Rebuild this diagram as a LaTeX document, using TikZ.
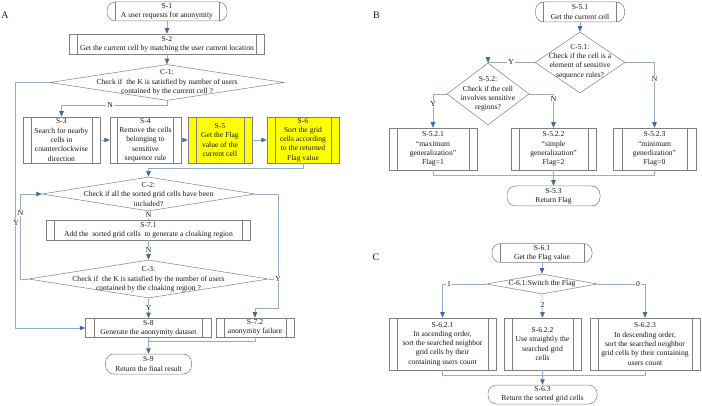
\documentclass[tikz,border=0pt]{standalone}
\usepackage{fontspec}
\setmainfont{Liberation Serif}
\usetikzlibrary{shapes.geometric,arrows.meta}
\definecolor{lncol}{RGB}{150,172,204}
\definecolor{arcol}{RGB}{68,106,168}
\definecolor{bdcol}{RGB}{128,128,128}
\definecolor{txcol}{RGB}{25,25,25}
\definecolor{yel}{RGB}{255,255,0}
\tikzset{
  txt/.style={text=txcol, font=\fontsize{7.6}{9.3}\selectfont, align=center, inner sep=0pt},
  dtxt/.style={txt, font=\fontsize{7.6}{9.7}\selectfont},
  box/.style={txt, draw=bdcol, line width=0.5pt, rectangle},
  pproc/.style={box, path picture={\draw[bdcol,line width=0.5pt]
      ([xshift=#1]path picture bounding box.north west) -- ([xshift=#1]path picture bounding box.south west)
      ([xshift=-#1]path picture bounding box.north east) -- ([xshift=-#1]path picture bounding box.south east);}},
  pproc/.default=8pt,
  term/.style={box, rounded corners=8.5pt},
  termS/.style={term, path picture={\draw[bdcol,line width=0.5pt,sharp corners]
      ([xshift=8pt]path picture bounding box.north west) -- ([xshift=8pt]path picture bounding box.south west)
      ([xshift=-8pt]path picture bounding box.north east) -- ([xshift=-8pt]path picture bounding box.south east);}},
  dia/.style={draw=bdcol, line width=0.5pt, diamond, inner sep=0pt, aspect=1},
  conn/.style={draw=lncol, line width=0.6pt},
  arr/.style={conn, -{Triangle[length=5.5pt,width=4.5pt,color=arcol]}},
  lab/.style={fill=white, inner sep=0.8pt, text=txcol, font=\fontsize{7.6}{8}\selectfont},
  panel/.style={text=txcol, font=\fontsize{10}{12}\selectfont, inner sep=0pt}
}
\begin{document}
\begin{tikzpicture}[x=1pt,y=-1pt]
\useasboundingbox (0,0) rectangle (702,406);
\fill[white] (0,0) rectangle (702,406);

% ---------------- Panel A ----------------
\node[panel] (pa) at (5,15) {A};
\node[termS, minimum width=120pt, minimum height=19pt] (s1) at (167,11.5) {S-1\\A user requests for anonymity};
\node[pproc, minimum width=195pt, minimum height=20pt] (s2) at (167,44) {S-2\\Get the current cell by matching the user current location};
\node[dia, minimum width=234pt, minimum height=36pt] (c1) at (167,82.5) {};
\node[dtxt] (c1t) at (167,82.5) {C-1:\\Check if\ \ the K is satisfied by number of users\\contained by the current cell ?};
\node[pproc, minimum width=77pt, minimum height=46pt] (s3) at (61.5,140) {S-3\\Search for nearby\\cells in\\counterclockwise\\direction};
\node[pproc=7.5pt, minimum width=71pt, minimum height=46pt] (s4) at (145.5,140) {S-4\\Remove the cells\\belonging to\\sensitive\\sequence rule};
\node[pproc, fill=yel, minimum width=64pt, minimum height=46pt] (s5) at (220,140) {S-5\\Get the Flag\\value of the\\current cell};
\node[pproc, fill=yel, minimum width=72pt, minimum height=46pt] (s6) at (303,140) {S-6\\Sort the grid\\cells according\\to the returned\\Flag value};
\node[dia, minimum width=213pt, minimum height=34pt] (c2) at (148.5,194) {};
\node[dtxt] (c2t) at (148.5,194.5) {C-2:\\Check if all the sorted grid cells have been\\included?};
\node[pproc, minimum width=204pt, minimum height=20pt] (s71) at (148.5,230) {S-7.1\\Add the\ \ sorted grid cells\ \ to generate a cloaking region};
\node[dia, minimum width=240pt, minimum height=38pt] (c3) at (148.5,279) {};
\node[dtxt] (c3t) at (148.5,279.5) {C-3:\\Check if\ \ the K is satisfied by the number of users\\contained by the cloaking region ?};
\node[pproc=9pt, minimum width=126pt, minimum height=19pt] (s8) at (148.5,328) {S-8\\Generate the anonymity dataset};
\node[pproc, minimum width=78pt, minimum height=19pt] (s72) at (255,327.5) {S-7.2\\anonymity failure};
\node[term, minimum width=86pt, minimum height=20pt] (s9) at (148.5,364) {S-9\\Return the final result};

\coordinate (b1) at (278,308);
\coordinate (b2) at (148.5,168);
\coordinate (b3) at (167,105);
\coordinate (b4) at (148.5,341);

\draw[arr] (s1.south) -- (s2.north);
\draw[arr] (s2.south) -- (c1.north);
\draw[arr] (c1.south) -- (b3) -| (s3.north);
\node[lab] (n1) at (110,105) {N};
\draw[arr] (c1.west) -- ++(-34,0) |- (s8.west);
\node[lab] (y1) at (16,223) {Y};
\draw[arr] (s3.east) -- (s4.west);
\draw[arr] (s4.east) -- (s5.west);
\draw[arr] (s5.east) -- (s6.west);
\draw[arr] (s6.south) |- (b2) -- (c2.north);
\draw[conn] (c2.south) -- (s71.north);
\node[lab] (n2) at (148.5,215) {N};
\draw[arr] (c2.east) -| (b1) -| (s72.north);
\draw[arr] (s71.south) -- (c3.north);
\node[lab] (n3) at (148.5,250) {N};
\draw[arr] (c3.west) -- ++(-8,0) |- (c2.west);
\node[lab] (n4) at (20.5,213) {N};
\draw[conn] (c3.east) -- (c3.east -| b1);
\node[lab] (y2) at (c3.east -| b1) {Y};
\draw[arr] (c3.south) -- (s8.north);
\node[lab] (y3) at (148.5,308) {Y};
\draw[arr] (s8.south) -- (s9.north);
\draw[conn] (s72.south) |- (b4);

% ---------------- Panel B ----------------
\node[panel] (pb) at (376.5,15) {B};
\node[termS, minimum width=89pt, minimum height=20pt] (s51) at (580,12) {S-5.1\\Get the current cell};
\node[dia, minimum width=90pt, minimum height=61pt] (c51) at (580,62.5) {};
\node[txt] (c51t) at (580,61.5) {C-5.1:\\Check if the cell is a\\element of sensitive\\sequence rules?};
\node[dia, minimum width=82pt, minimum height=62pt] (s52) at (488,94) {};
\node[txt] (s52t) at (488,94) {S-5.2:\\Check if the cell\\involves sensitive\\regions?};
\node[pproc, minimum width=88pt, minimum height=42pt] (s521) at (433,149) {S-5.2.1\\“maximum\\generalization”\\Flag=1};
\node[pproc, minimum width=85pt, minimum height=42pt] (s522) at (553.5,149) {S-5.2.2\\“simple\\generalization”\\Flag=2};
\node[pproc=9pt, minimum width=83pt, minimum height=42pt] (s523) at (654.5,149) {S-5.2.3\\“minimum\\generlization”\\Flag=0};
\node[term, minimum width=93pt, minimum height=20pt] (s53) at (553.5,196) {S-5.3\\Return Flag};

\coordinate (b5) at (553.5,175);
\draw[arr] (s51.south) -- (c51.north);
\draw[arr] (c51.west) -| (s52.north);
\node[lab] (y4) at (511,62.5) {Y};
\draw[arr] (c51.east) -| (s523.north);
\node[lab] (n5) at (654.5,79) {N};
\draw[arr] (s52.west) -| (s521.north);
\node[lab] (y5) at (433,104) {Y};
\draw[arr] (s52.east) -| (s522.north);
\node[lab] (n6) at (553.5,99) {N};
\draw[conn] (s521.south) |- (b5);
\draw[conn] (s523.south) |- (b5);
\draw[arr] (s522.south) -- (s53.north);

% ---------------- Panel C ----------------
\node[panel] (pc) at (376,257.5) {C};
\node[termS, minimum width=100pt, minimum height=19pt] (s61) at (542,253) {S-6.1\\Get the Flag value};
\node[dia, minimum width=111pt, minimum height=20pt] (c61) at (542,284) {};
\node[txt] (c61t) at (542,284) {C-6.1:Switch the Flag};
\node[pproc, minimum width=107pt, minimum height=52pt] (s621) at (442.5,344) {S-6.2.1\\In ascending order,\\sort the searched neighbor\\grid cells by their\\containing users count};
\node[pproc, minimum width=77pt, minimum height=52pt] (s622) at (542.5,344) {S-6.2.2\\Use straightly the\\searched grid\\cells};
\node[pproc, minimum width=110pt, minimum height=52pt] (s623) at (645,344) {S-6.2.3\\In descending order,\\sort the searched neighbor\\grid cells by their containing\\users count};
\node[term, minimum width=109pt, minimum height=19pt] (s63) at (542.5,394.5) {S-6.3\\Return the sorted grid cells};

\coordinate (b6) at (542.5,375);
\draw[arr] (s61.south) -- (c61.north);
\draw[arr] (c61.west) -| (s621.north);
\node[lab] (l1) at (449,284) {1};
\draw[arr] (c61.east) -| (s623.north);
\node[lab] (l0) at (638,284) {0};
\draw[arr] (c61.south) -- (s622.north);
\node[lab] (l2) at (542.5,305) {2};
\draw[conn] (s621.south) |- (b6);
\draw[conn] (s623.south) |- (b6);
\draw[arr] (s622.south) -- (s63.north);
\end{tikzpicture}
\end{document}
